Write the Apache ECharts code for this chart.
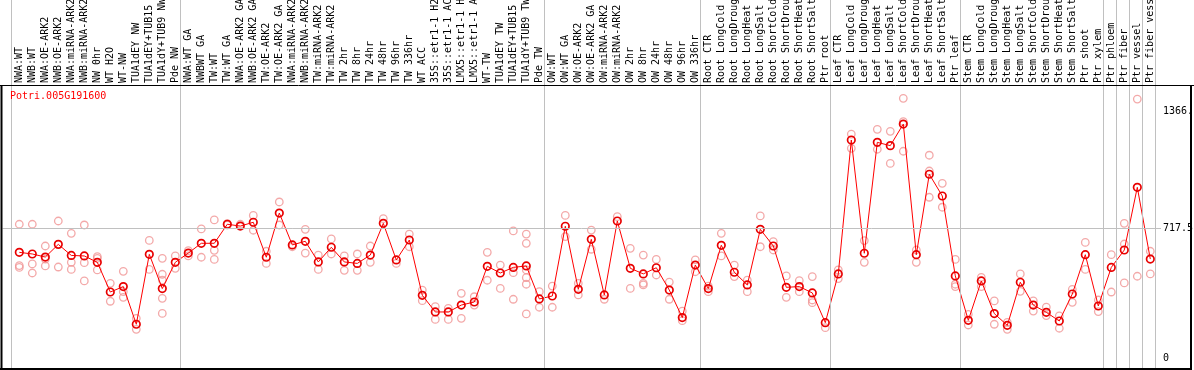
<!DOCTYPE html>
<html><head><meta charset="utf-8">
<script src="https://cdn.jsdelivr.net/npm/echarts@6/dist/echarts.min.js"></script>
<style>html,body{margin:0;padding:0;background:#fff;overflow:hidden}#c{width:1194px;height:370px}</style>
</head><body><div id="c"></div>
<script>
const geneName = 'Potri.005G191600';
const categories = [
 'NWA:WT','NWB:WT','NWA:OE-ARK2','NWB:OE-ARK2','NWA:miRNA-ARK2','NWB:miRNA-ARK2','NW 0hr','WT H2O','WT-NW','TUA1dEY NW',
 'TUA1dEY+TUB15 NW','TUA1dY+TUB9 NW','Pde NW','NWA:WT GA','NWBWT GA','TW:WT','TW:WT GA','NWA:OE-ARK2 GA','NWB:OE-ARK2 GA','TW:OE-ARK2',
 'TW:OE-ARK2 GA','NWA:miRNA-ARK2 GA','NWB:miRNA-ARK2 GA','TW:miRNA-ARK2','TW:miRNA-ARK2 GA','TW 2hr','TW 8hr','TW 24hr','TW 48hr','TW 96hr',
 'TW 336hr','WT ACC','35S::etr1-1 H2O','35S::etr1-1 ACC','LMX5::etr1-1 H2O','LMX5::etr1-1 ACC','WT-TW','TUA1dEY TW','TUA1dEY+TUB15 TW','TUA1dY+TUB9 TW',
 'Pde TW','OW:WT','OW:WT GA','OW:OE-ARK2','OW:OE-ARK2 GA','OW:miRNA-ARK2','OW:miRNA-ARK2 GA','OW 2hr','OW 8hr','OW 24hr',
 'OW 48hr','OW 96hr','OW 336hr','Root CTR','Root LongCold','Root LongDrought','Root LongHeat','Root LongSalt','Root ShortCold','Root ShortDrought',
 'Root ShortHeat','Root ShortSalt','Ptr root','Leaf CTR','Leaf LongCold','Leaf LongDrought','Leaf LongHeat','Leaf LongSalt','Leaf ShortCold','Leaf ShortDrought',
 'Leaf ShortHeat','Leaf ShortSalt','Ptr leaf','Stem CTR','Stem LongCold','Stem LongDrought','Stem LongHeat','Stem LongSalt','Stem ShortCold','Stem ShortDrought',
 'Stem ShortHeat','Stem ShortSalt','Ptr shoot','Ptr xylem','Ptr phloem','Ptr fiber','Ptr vessel','Ptr fiber vessel'
];
const means = [
 587,578,561,631,570,567,532,368,398,190,
 576,387,532,583,637,637,742,732,753,560,
 804,628,648,534,615,534,526,572,747,545,
 655,350,258,258,296,313,510,473,504,512,
 330,346,731,383,659,352,760,499,468,502,
 379,227,517,387,626,477,407,714,622,394,
 398,363,199,468,1207,582,1194,1176,1295,574,
 1018,898,457,212,429,249,184,422,296,256,
 208,357,574,291,504,600,946,550
];
const replicates = [
 [742,514,504],[742,523,473],[622,512,550],[760,506],[692,532,493],[738,530,429],[563,554,490],[416,317],[482,370,339],[223,162],
 [653,493],[554,466,434,333,250],[567,499],[596,567],[716,560],[766,598,548],[745,738],[742],[791,709],[593,526],
 [865,738],[618],[714,583],[572,493],[661,578],[567,488],[578,488],[622,532],[773],[526],
 [688,618],[379,320],[287,217],[278,217],[361,223],[342,296],[587,433],[517,388],[705,475,328],[688,637,490,447,411,247],
 [370,284],[401,284],[791,674],[416,352],[710,604],[328],[784],[609,388],[572,416,407],[548,462],
 [423,328],[263,210],[545,480],[401,370],[692,567],[517,453],[434,370],[788,618],[646,600],[457,339],
 [431,370],[453,324,309],[171],[490,442],[1240,1161],[652,532],[1266,1156],[1255,1078],[1437,1308,1145],[600,532],
 [1123,1036,891],[968,836],[548,411,398],[245,186],[449,398],[319,190],[201,162],[468,372],[319,263],[285,238],
 [236,168],[383,311],[642,493],[324,260],[574,368],[747,633,418],[1433,455],[593,468]
];
const groupStarts = [0, 13, 41, 53, 63, 73, 84, 85, 86, 87, 88];
const yTickValues = [0, 717.5, 1366];
const yTickLabels = ['0', '717.5', '1366.'];
const yGridValues = [717.5];

// ---- layout (pixels) ----
const W = 1194, H = 370;
const plotTop = 86, plotBottom = 369;
const bandLeft = 12.8, band = 13, nCat = categories.length;
const zeroY = 358.7, pxPerUnit = 130 / 717.5;
const yAt = py => (zeroY - py) / pxPerUnit;          // pixel -> value
const xAt = px => (px - bandLeft - band / 2) / band; // pixel -> category index
const FONT = 'DejaVu Sans Mono';

const repData = [];
replicates.forEach((arr, i) => arr.forEach(v => repData.push([i, v])));

const labelPads = {0: [6, 0, 0, 0], 717.5: [6, 0, 0, 0], 1366: [0, 0, 6, 0]};

const chart = echarts.init(document.getElementById('c'), null, {renderer: 'canvas'});
chart.setOption({
  animation: false,
  backgroundColor: '#fff',
  title: {
    text: geneName, left: 10, top: 91, padding: 0,
    textStyle: {color: '#ff0000', fontSize: 10, fontFamily: FONT, fontWeight: 'normal'}
  },
  grid: [
    {left: bandLeft, right: W - (bandLeft + band * nCat), top: plotTop, bottom: H - plotBottom, containLabel: false, outerBoundsMode: 'none'},
    {left: 0, right: 0, top: 0, bottom: 0, containLabel: false, outerBoundsMode: 'none'}
  ],
  xAxis: [
    {
      type: 'category', gridIndex: 0, data: categories, position: 'top', boundaryGap: true,
      axisLine: {show: false}, axisTick: {show: false}, splitLine: {show: false},
      axisLabel: {rotate: 90, interval: 0, margin: 3, align: 'left', verticalAlign: 'middle',
                  hideOverlap: false, fontSize: 10, fontFamily: FONT, color: '#000'}
    },
    {type: 'value', gridIndex: 1, min: xAt(0), max: xAt(W), show: false, splitLine: {show: false}}
  ],
  yAxis: [
    {type: 'value', gridIndex: 0, min: yAt(plotBottom), max: yAt(plotTop), show: false, splitLine: {show: false}},
    {type: 'value', gridIndex: 1, min: yAt(H), max: yAt(0), show: false, splitLine: {show: false}}
  ],
  series: [
    {
      type: 'line', xAxisIndex: 1, yAxisIndex: 1, data: [], silent: true, z: 1,
      markLine: {
        silent: true, symbol: ['none', 'none'], animation: false,
        label: {show: false},
        lineStyle: {color: '#c0c0c0', width: 1, type: 'solid'},
        emphasis: {disabled: true},
        data: groupStarts.map(b => ({xAxis: b - 0.63}))
      }
    },
    {
      type: 'line', xAxisIndex: 1, yAxisIndex: 1, data: [], silent: true, z: 1,
      markLine: {
        silent: true, symbol: ['none', 'none'], animation: false,
        emphasis: {disabled: true},
        data: yTickValues.map((v, k) => [
          {
            coord: [xAt(2.5), v],
            lineStyle: {color: yGridValues.includes(v) ? '#c0c0c0' : 'rgba(0,0,0,0)', width: 1, type: 'solid'},
            label: {
              show: true, position: 'end', distance: 2, formatter: yTickLabels[k],
              color: '#000', fontSize: 10, fontFamily: FONT, padding: labelPads[v]
            }
          },
          {coord: [xAt(1161), v]}
        ])
      }
    },
    {
      name: 'replicates', type: 'scatter', xAxisIndex: 0, yAxisIndex: 0, data: repData, z: 2,
      symbol: 'circle', symbolSize: 7.5, silent: true,
      itemStyle: {color: 'rgba(0,0,0,0)', borderColor: '#f09494', borderWidth: 1.3}
    },
    {
      name: 'mean', type: 'line', xAxisIndex: 0, yAxisIndex: 0, data: means, z: 3,
      symbol: 'circle', symbolSize: 7.5, showAllSymbol: true, silent: true,
      lineStyle: {color: '#ff0000', width: 1},
      itemStyle: {color: 'rgba(0,0,0,0)', borderColor: '#e80000', borderWidth: 1.7}
    }
  ],
  graphic: [
    {type: 'line', silent: true, z: 100, shape: {x1: 0, y1: 85.5, x2: W, y2: 85.5}, style: {stroke: '#000', lineWidth: 1}},
    {type: 'line', silent: true, z: 100, shape: {x1: 1.5, y1: 85, x2: 1.5, y2: H}, style: {stroke: '#000', lineWidth: 2}},
    {type: 'line', silent: true, z: 100, shape: {x1: 0, y1: 369, x2: 1192, y2: 369}, style: {stroke: '#000', lineWidth: 2}},
    {type: 'line', silent: true, z: 100, shape: {x1: 1191, y1: 85, x2: 1191, y2: H}, style: {stroke: '#000', lineWidth: 2}}
  ]
});
</script></body></html>
